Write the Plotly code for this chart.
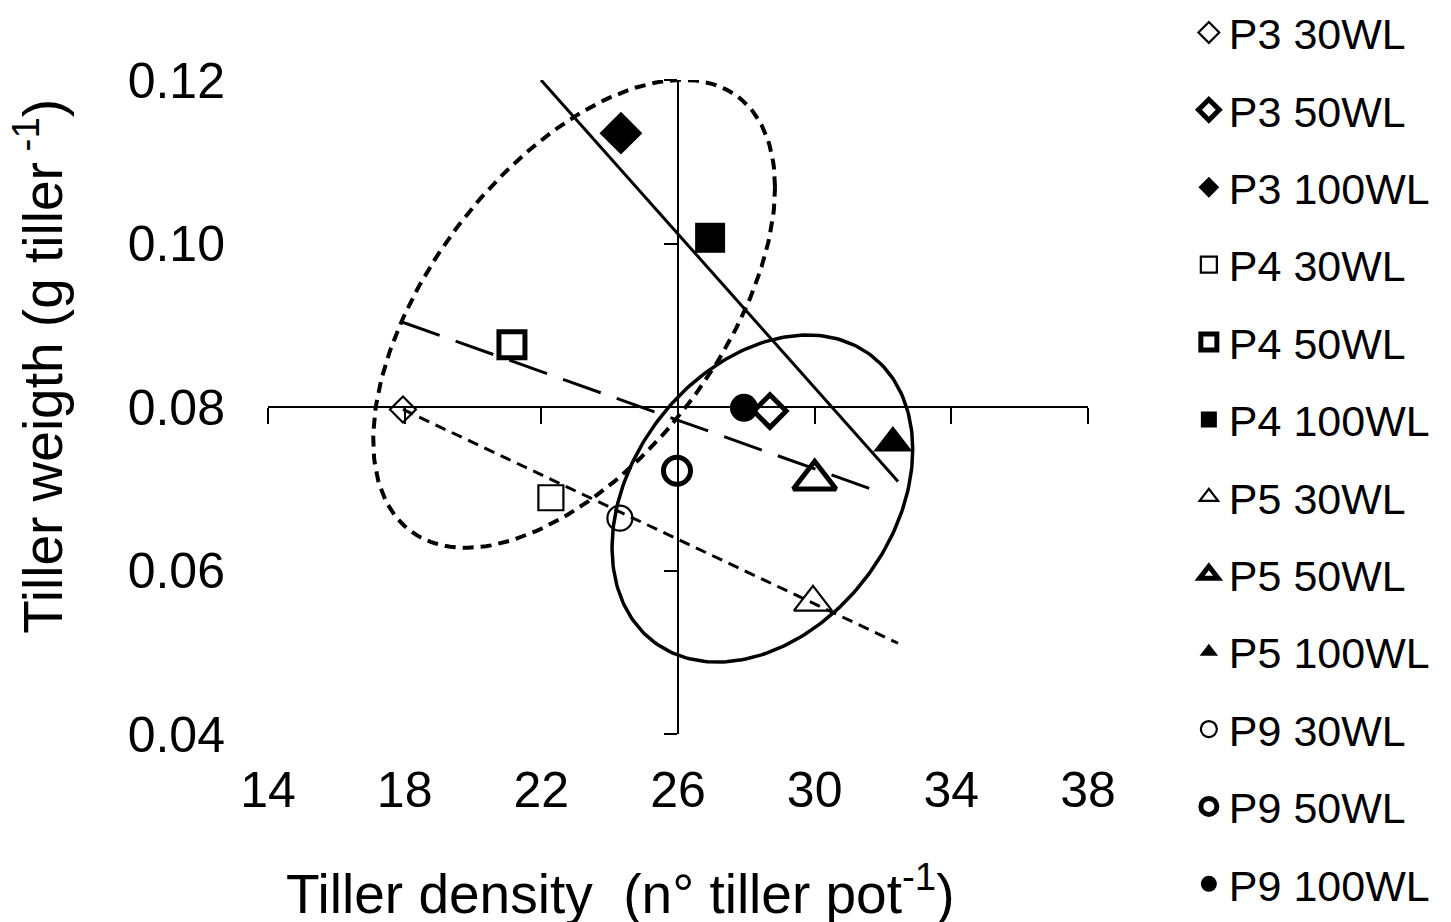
import numpy as np
import plotly.graph_objects as go

# ---------------- data ----------------
labels = ["P3 30WL", "P3 50WL", "P3 100WL",
          "P4 30WL", "P4 50WL", "P4 100WL",
          "P5 30WL", "P5 50WL", "P5 100WL",
          "P9 30WL", "P9 50WL", "P9 100WL"]
tiller_density = [17.95, 28.69, 24.33,
                  22.28, 21.14, 26.94,
                  29.95, 30.00, 32.29,
                  24.30, 25.97, 27.93]
tiller_weight = [0.0797, 0.0795, 0.1135,
                 0.0689, 0.0876, 0.1007,
                 0.0561, 0.0711, 0.0756,
                 0.0664, 0.0722, 0.0799]

# regression lines (end points)
solid_line_x = [21.99, 32.44]
solid_line_y = [0.1200, 0.0709]
longdash_line_x = [17.92, 31.97]
longdash_line_y = [0.0904, 0.0695]
shortdash_line_x = [17.95, 32.44]
shortdash_line_y = [0.0797, 0.0511]

# confidence ellipses: centre x, centre y, half width, half height, tilt coefficient
ellipse_dashed = [22.96, 0.0914, 5.88, 0.02862, 0.54]
ellipse_solid = [28.47, 0.0688, 4.40, 0.0200, 0.30]

x_ticks = [14, 18, 22, 26, 30, 34, 38]
y_ticks = [0.04, 0.06, 0.08, 0.10, 0.12]
y_tick_text = ["0.04", "0.06", "0.08", "0.10", "0.12"]
x_cross = 26
y_cross = 0.08

# ---------------- styles ----------------
symbols = ["diamond", "diamond", "diamond",
           "square", "square", "square",
           "triangle-up", "triangle-up", "triangle-up",
           "circle", "circle", "circle"]
sizes = [20, 25, 33,
         25, 26, 30,
         33, 37, 34,
         25, 27, 28]
fills = ["rgba(0,0,0,0)", "rgba(0,0,0,0)", "black"] * 4
line_widths = [2.2, 5, 0] * 4

FONT = "Liberation Sans, Arial, sans-serif"


def ellipse_points(p, n=240):
    cx, cy, w, h, rho = p
    t = np.linspace(0, 2 * np.pi, n)
    xs = cx + w * np.cos(t)
    ys = cy + h * (rho * np.cos(t) + np.sqrt(1 - rho ** 2) * np.sin(t))
    return xs, ys


fig = go.Figure()

ex, ey = ellipse_points(ellipse_dashed)
fig.add_trace(go.Scatter(x=ex, y=ey, mode="lines", showlegend=False, hoverinfo="skip",
                         line=dict(color="black", width=4, dash="11px,7px")))
ex, ey = ellipse_points(ellipse_solid)
fig.add_trace(go.Scatter(x=ex, y=ey, mode="lines", showlegend=False, hoverinfo="skip",
                         line=dict(color="black", width=3.5)))

fig.add_trace(go.Scatter(x=solid_line_x, y=solid_line_y, mode="lines", showlegend=False,
                         line=dict(color="black", width=3)))
fig.add_trace(go.Scatter(x=longdash_line_x, y=longdash_line_y, mode="lines", showlegend=False,
                         line=dict(color="black", width=3, dash="40px,17px")))
fig.add_trace(go.Scatter(x=shortdash_line_x, y=shortdash_line_y, mode="lines", showlegend=False,
                         line=dict(color="black", width=3, dash="11px,7px")))

for i, name in enumerate(labels):
    fig.add_trace(go.Scatter(
        x=[tiller_density[i]], y=[tiller_weight[i]], mode="markers", name=name,
        legendgroup=name, cliponaxis=False,
        marker=dict(symbol=symbols[i], size=sizes[i], color=fills[i],
                    line=dict(color="black", width=line_widths[i]))))

# dummy trace binding the crossing axes
fig.add_trace(go.Scatter(x=[None], y=[None], xaxis="x2", yaxis="y2",
                         showlegend=False, hoverinfo="skip"))

x_range = [x_ticks[0], x_ticks[-1]]
y_range = [y_ticks[0], y_ticks[-1]]
x_pos = (x_cross - x_range[0]) / (x_range[1] - x_range[0])
y_pos = (y_cross - y_range[0]) / (y_range[1] - y_range[0])

fig.update_layout(
    template="none",
    width=1443, height=914,
    margin=dict(l=260, r=363, t=72, b=188, autoexpand=False),
    paper_bgcolor="white", plot_bgcolor="white",
    font=dict(family=FONT, color="black"),
    xaxis=dict(range=x_range, tickvals=x_ticks, ticktext=[str(v) for v in x_ticks],
               showline=False, showgrid=False, zeroline=False, ticks="", automargin=False,
               tickfont=dict(size=50, family=FONT, color="black"), ticklabelstandoff=22),
    yaxis=dict(range=y_range, tickvals=y_ticks, ticktext=y_tick_text,
               showline=False, showgrid=False, zeroline=False, ticks="", automargin=False,
               tickfont=dict(size=50, family=FONT, color="black"), ticklabelstandoff=42),
    xaxis2=dict(range=x_range, overlaying="x", anchor="free", position=y_pos, side="bottom",
                tickvals=x_ticks, showticklabels=False, ticks="outside", ticklen=16,
                tickwidth=2, tickcolor="black", showline=True, linecolor="black", linewidth=2,
                showgrid=False, zeroline=False, automargin=False),
    yaxis2=dict(range=y_range, overlaying="y", anchor="free", position=x_pos, side="left",
                tickvals=y_ticks, showticklabels=False, ticks="outside", ticklen=13,
                tickwidth=2, tickcolor="black", showline=True, linecolor="black", linewidth=2,
                showgrid=False, zeroline=False, automargin=False),
    legend=dict(x=1.123, xanchor="left", y=1.1254, yanchor="top", maxheight=1000,
                font=dict(size=43, family=FONT, color="black"),
                tracegroupgap=18.5, itemsizing="trace", bgcolor="rgba(0,0,0,0)"),
    annotations=[
        dict(text="Tiller density&nbsp; (n° tiller pot<sup>-1</sup>)", xref="paper", yref="paper",
             x=0.4293, y=-0.238, xanchor="center", yanchor="middle", showarrow=False,
             font=dict(size=55, family=FONT, color="black")),
        dict(text="Tiller weigth (g tiller<sup> -1</sup>)", xref="paper", yref="paper",
             x=-0.2795, y=0.5627, xanchor="center", yanchor="middle", textangle=-90,
             showarrow=False, font=dict(size=55, family=FONT, color="black")),
    ],
)

fig.write_html("out.html")
